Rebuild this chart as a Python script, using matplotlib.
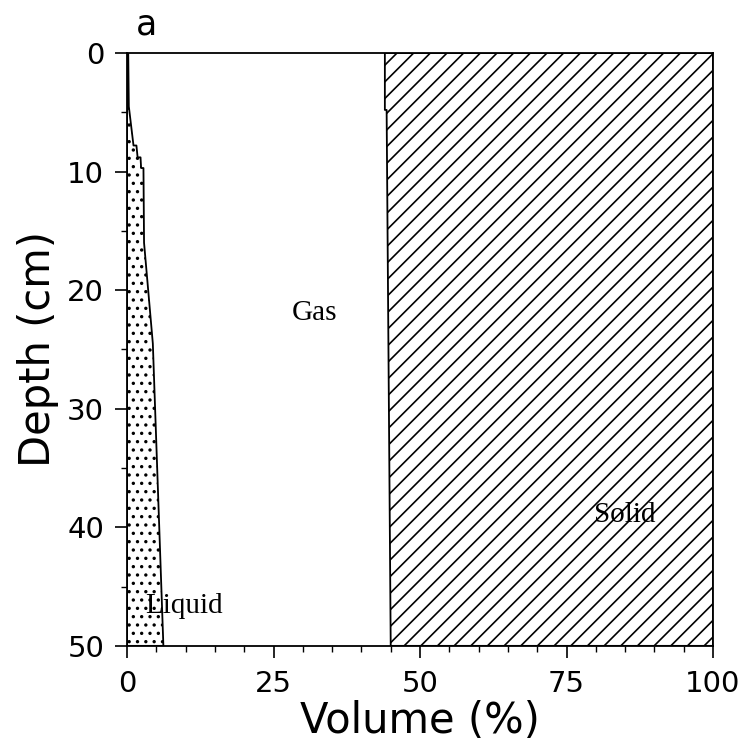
import matplotlib.pyplot as plt
import numpy as np
from matplotlib.ticker import MultipleLocator

# liquid / gas boundary (volume %) against depth (cm)
liquid_depth = [0, 4.5, 7.8, 7.8, 8.8, 8.8, 9.7, 9.7, 16, 24.5, 50]
liquid_vol = [0.2, 0.3, 1.1, 1.6, 1.8, 2.3, 2.4, 2.8, 2.9, 4.4, 6.2]

# gas / solid boundary
solid_depth = [0, 4.8, 4.8, 50]
solid_vol = [44.0, 44.0, 44.3, 45.0]

phase_labels = ['Gas', 'Solid', 'Liquid']
label_x = [32.0, 85.0, 9.8]
label_y = [21.9, 39.0, 46.6]

plt.rcParams['hatch.linewidth'] = 1.2
sans = ['DejaVu Sans']
serif = ['Liberation Serif', 'DejaVu Serif']

fig = plt.figure(figsize=(7.43, 7.51), dpi=100)
ax = fig.add_axes([0.171, 0.14, 0.7886, 0.7894])

# liquid (dotted)
ax.fill_betweenx(liquid_depth, 0, liquid_vol, facecolor='white',
                 edgecolor='black', hatch='..', linewidth=1.3)
# solid (hatched)
ax.fill_betweenx(solid_depth, solid_vol, 100, facecolor='white',
                 edgecolor='black', hatch='//', linewidth=1.3)

for txt, x, y in zip(phase_labels, label_x, label_y):
    ax.text(x, y, txt, ha='center', va='center', fontsize=21, family=serif)

ax.text(3.3, -1.0, 'a', ha='center', va='bottom', fontsize=25, family=sans)

ax.set_xlim(0, 100)
ax.set_ylim(50, 0)
ax.xaxis.set_major_locator(MultipleLocator(25))
ax.xaxis.set_minor_locator(MultipleLocator(5))
ax.yaxis.set_major_locator(MultipleLocator(10))
ax.yaxis.set_minor_locator(MultipleLocator(5))

ax.tick_params(axis='both', which='major', direction='out', length=8.5, width=1.2,
               labelsize=21)
ax.tick_params(axis='y', which='major', pad=8)
ax.tick_params(axis='x', which='major', pad=9)
ax.tick_params(axis='both', which='minor', direction='out', length=4, width=1.0)
for lab in ax.get_xticklabels() + ax.get_yticklabels():
    lab.set_family(sans)

for sp in ax.spines.values():
    sp.set_linewidth(1.3)

ax.set_xlabel('Volume (%)', fontsize=30, family=sans, labelpad=1)
ax.set_ylabel('Depth (cm)', fontsize=30, family=sans, labelpad=6)

fig.savefig('out.png', dpi=100)
